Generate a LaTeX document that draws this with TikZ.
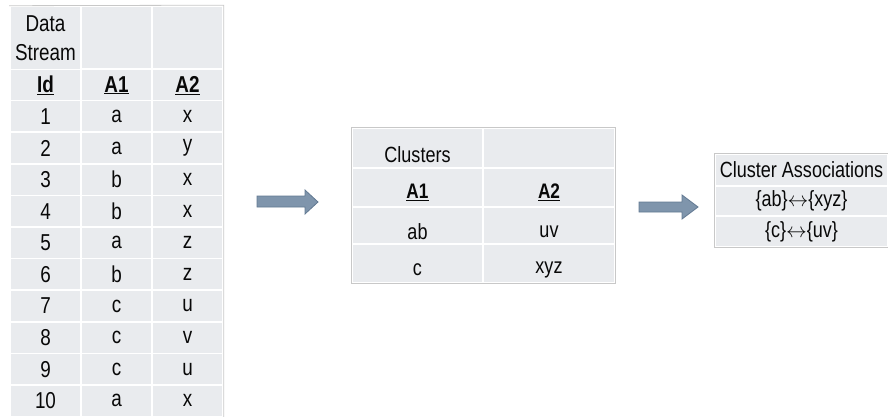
\documentclass[tikz,border=0pt]{standalone}
\usepackage{fontspec}
\setmainfont{Liberation Sans}[FakeStretch=0.82]
\definecolor{cellfill}{RGB}{233,235,238}
\definecolor{tabline}{RGB}{200,200,200}
\definecolor{arrfill}{RGB}{127,149,172}
\definecolor{arrdraw}{RGB}{98,121,146}
\definecolor{txt}{RGB}{8,8,8}
\begin{document}
\begin{tikzpicture}[x=1pt,y=-1pt,
  cellbox/.style={draw=white, line width=1.6pt, fill=cellfill, inner sep=0pt, text=txt},
  lcell/.style={cellbox, minimum width=71pt, minimum height=31.6pt, font=\fontsize{23}{27}\selectfont},
  mcell/.style={cellbox, minimum height=39pt},
  rcell/.style={cellbox, minimum width=173pt, font=\fontsize{22}{25}\selectfont},
  mtext/.style={font=\fontsize{22}{25}\selectfont, text=txt},
  mhead/.style={font=\fontsize{21}{25}\selectfont\bfseries, text=txt},
  tborder/.style={draw=tabline, line width=0.8pt},
  blockarrow/.style={fill=arrfill, draw=arrdraw, line width=0.8pt, line join=miter}
]
\useasboundingbox (0,0) rectangle (888,416);

% ---------- left table ----------
\node[lcell, minimum height=63pt, align=center, font=\fontsize{23}{29}\selectfont] (L-h-1) at (45.5,38) {Data\\Stream};
\node[lcell, minimum height=63pt] (L-h-2) at (116.5,37.5) {};
\node[lcell, minimum height=63pt] (L-h-3) at (187.5,37.5) {};
\node[lcell, font=\fontsize{23}{27}\selectfont\bfseries] (L-0-1) at (45.5,85.3) {\underline{Id}};
\node[lcell, font=\fontsize{23}{27}\selectfont\bfseries] (L-0-2) at (116.5,85.3) {\underline{A1}};
\node[lcell, font=\fontsize{23}{27}\selectfont\bfseries] (L-0-3) at (187.5,85.3) {\underline{A2}};
\foreach \i/\p/\q in {1/a/x,2/a/y,3/b/x,4/b/x,5/a/z,6/b/z,7/c/u,8/c/v,9/c/u,10/a/x} {
  \pgfmathsetmacro\yc{69+31.6*\i+15.8}
  \node[lcell] (L-\i-1) at (45.5,\yc) {\i};
  \node[lcell] (L-\i-2) at (116.5,\yc) {\p};
  \node[lcell] (L-\i-3) at (187.5,\yc) {\q};
}
\draw[tborder] (L-h-1.north west) -- (L-h-3.north east) -- (L-10-3.south east);

% ---------- middle table ----------
\node[mcell, minimum width=131pt, minimum height=40pt] (M-1-1) at (417.5,148) {};
\node[mcell, minimum width=132pt, minimum height=40pt] (M-1-2) at (549,148) {};
\node[mcell, minimum width=131pt] (M-2-1) at (417.5,187.5) {};
\node[mcell, minimum width=132pt] (M-2-2) at (549,187.5) {};
\node[mcell, minimum width=131pt, minimum height=37pt] (M-3-1) at (417.5,225.5) {};
\node[mcell, minimum width=132pt, minimum height=37pt] (M-3-2) at (549,225.5) {};
\node[mcell, minimum width=131pt] (M-4-1) at (417.5,263.5) {};
\node[mcell, minimum width=132pt] (M-4-2) at (549,263.5) {};
\draw[tborder] (M-1-1.north west) rectangle (M-4-2.south east);
\node[mtext] (t-clu) at ([yshift=-7pt]M-1-1.center) {Clusters};
\node[mhead] (t-ma1) at ([yshift=-5pt]M-2-1.center) {\underline{A1}};
\node[mhead] (t-ma2) at ([yshift=-5pt]M-2-2.center) {\underline{A2}};
\node[mtext] (t-ab) at ([yshift=-6pt]M-3-1.center) {ab};
\node[mtext] (t-uv) at ([yshift=-6pt]M-3-2.center) {uv};
\node[mtext] (t-c) at ([yshift=-6pt]M-4-1.center) {c};
\node[mtext] (t-xyz) at ([yshift=-6pt]M-4-2.center) {xyz};

% ---------- right table ----------
\node[rcell, minimum height=32pt] (R-1) at (801.5,170) {Cluster Associations};
\node[rcell, minimum height=30pt] (R-2) at (801.5,201) {\{ab\}$\leftrightarrow$\{xyz\}};
\node[rcell, minimum height=31pt] (R-3) at (801.5,231.5) {\{c\}$\leftrightarrow$\{uv\}};
\draw[tborder] (R-1.north east) -- (R-1.north west) -- (R-3.south west) -- (R-3.south east);

% ---------- block arrows ----------
\coordinate (a1t) at (318,202);
\draw[blockarrow] (257,196) -- (305,196) -- (305,190) -- (a1t) -- (305,214) -- (305,207) -- (257,207) -- cycle;
\coordinate (a2t) at (698,207);
\draw[blockarrow] (639,202) -- (682,202) -- (682,195) -- (a2t) -- (682,219) -- (682,212) -- (639,212) -- cycle;
\end{tikzpicture}
\end{document}
